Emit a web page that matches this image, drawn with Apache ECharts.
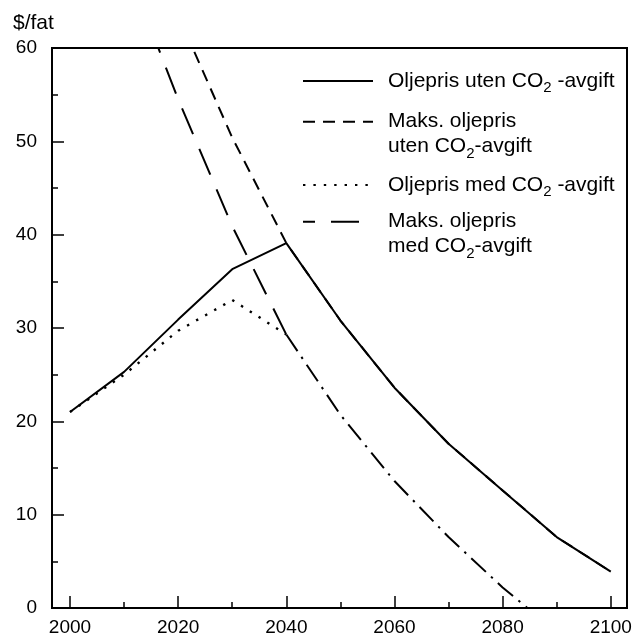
<!DOCTYPE html>
<html>
<head>
<meta charset="utf-8">
<script src="https://cdn.jsdelivr.net/npm/echarts@6/dist/echarts.min.js"></script>
<style>
html,body{margin:0;padding:0;background:#fff;}
#chart{width:633px;height:634px;}
</style>
</head>
<body>
<div id="chart"></div>
<script>
// ---- data ----
const years      = [2000, 2010, 2020, 2030, 2040, 2050, 2060, 2070, 2080, 2090, 2100];
const oilNoTax   = [21.0, 25.3, 30.9, 36.3, 39.1, 30.8, 23.6, 17.6, 12.6, 7.6, 3.9];
const maxNoTax   = [null, null, 63.5, 50.4, 39.1, 30.8, 23.6, 17.6, 12.6, 7.6, 3.9];
const taxYears   = [2000, 2010, 2020, 2030, 2040, 2050, 2060, 2070, 2080, 2085];
const oilTax     = [21.0, 25.0, 29.7, 33.0, 29.3, null, null, null, null, null];
const maxTax     = [null, 69.5, 54.5, 40.9, 29.3, 20.7, 13.6, 7.6, 2.2, -0.2];
const xLabelValues = [2000, 2020, 2040, 2060, 2080, 2100];
const xMinorValues = [2010, 2030, 2050, 2070, 2090];
const seriesNames = [
  'Oljepris uten CO2 -avgift',
  'Maks. oljepris uten CO2-avgift',
  'Oljepris med CO2 -avgift',
  'Maks. oljepris med CO2-avgift'
];
const legendTexts = [
  '{a|Oljepris uten CO}{s|2}{a| -avgift}',
  '{a|Maks. oljepris}\n{a|uten CO}{s|2}{a|-avgift}',
  '{a|Oljepris med CO}{s|2}{a| -avgift}',
  '{a|Maks. oljepris}\n{a|med CO}{s|2}{a|-avgift}'
];

const FONT = "'Liberation Sans', Arial, Helvetica, sans-serif";
const INK = '#000';

function pairs(xs, ys) { return xs.map((x, i) => [x, ys[i]]); }
const oilNoTaxData = pairs(years, oilNoTax);
const maxNoTaxData = pairs(years, maxNoTax);
const oilTaxData = pairs(taxYears, oilTax);
const maxTaxAll = pairs(taxYears, maxTax);
const maxTaxHead = maxTaxAll.filter(p => p[0] <= 2040);
const maxTaxTail = maxTaxAll.filter(p => p[0] >= 2040);

const rich = {
  a: {fontFamily: FONT, fontSize: 21, color: INK, lineHeight: 25},
  s: {fontFamily: FONT, fontSize: 15, color: INK, padding: [14, 0, 0, 0]}
};

function makeLegend(idx, top, twoLine) {
  return {
    data: [{name: seriesNames[idx]}],
    left: 302,
    top: top,
    padding: 0,
    orient: 'vertical',
    itemWidth: 70,
    itemHeight: 14,
    selectedMode: false,
    itemStyle: {opacity: 0},
    formatter: () => legendTexts[idx],
    textStyle: {
      fontFamily: FONT, fontSize: 21, color: INK, lineHeight: 25,
      padding: twoLine ? [25, 0, 0, 10] : [0, 0, 0, 10],
      rich: rich
    }
  };
}

const chart = echarts.init(document.getElementById('chart'), null, {renderer: 'canvas'});
const xCommon = {
  type: 'value', min: 1996.67, max: 2103.0,
  position: 'bottom',
  splitLine: {show: false}
};
chart.setOption({
  animation: false,
  backgroundColor: '#fff',
  title: {
    text: '$/fat', left: 13, top: 13, padding: 0,
    textStyle: {fontFamily: FONT, fontSize: 21, fontWeight: 'normal', color: INK}
  },
  grid: {
    left: 52, top: 48, right: 6, bottom: 26,
    show: true, borderColor: INK, borderWidth: 2, backgroundColor: 'transparent',
    containLabel: false, outerBoundsMode: 'none'
  },
  legend: [
    makeLegend(0, 68.5, false),
    makeLegend(1, 84.2, true),
    makeLegend(2, 172.5, false),
    makeLegend(3, 184.2, true)
  ],
  xAxis: [
    Object.assign({}, xCommon, {
      axisLine: {show: true, lineStyle: {color: INK, width: 2}},
      axisTick: {show: true, inside: true, length: 12, lineStyle: {color: INK, width: 1.5}, customValues: xLabelValues},
      axisLabel: {show: true, margin: 10, fontFamily: FONT, fontSize: 19, color: INK, customValues: xLabelValues,
        formatter: v => String(Math.round(v))}
    }),
    Object.assign({}, xCommon, {
      axisLine: {show: false},
      axisTick: {show: true, inside: true, length: 6, lineStyle: {color: INK, width: 1.5}, customValues: xMinorValues},
      axisLabel: {show: false}
    })
  ],
  yAxis: {
    type: 'value', min: 0, max: 60, interval: 10,
    axisLine: {show: true, lineStyle: {color: INK, width: 2}},
    axisTick: {show: true, inside: true, length: 12, lineStyle: {color: INK, width: 1.5}},
    minorTick: {show: true, splitNumber: 2, length: 6, lineStyle: {color: INK, width: 1.5}},
    axisLabel: {show: true, margin: 15, fontFamily: FONT, fontSize: 19, color: INK},
    splitLine: {show: false}
  },
  series: [
    {
      name: seriesNames[1], type: 'line', xAxisIndex: 0, data: maxNoTaxData,
      symbol: 'none', z: 2, clip: true,
      lineStyle: {color: INK, width: 2, type: [12, 8]}, itemStyle: {color: INK}
    },
    {
      name: seriesNames[0], type: 'line', xAxisIndex: 0, data: oilNoTaxData,
      symbol: 'none', z: 4, clip: true,
      lineStyle: {color: INK, width: 2, type: 'solid'}, itemStyle: {color: INK}
    },
    {
      name: seriesNames[2], type: 'line', xAxisIndex: 0, data: oilTaxData,
      symbol: 'none', z: 3, clip: true, connectNulls: false,
      lineStyle: {color: INK, width: 2.4, type: [2.4, 8]}, itemStyle: {color: INK}
    },
    {
      name: seriesNames[3], type: 'line', xAxisIndex: 0, data: maxTaxHead,
      symbol: 'none', z: 3, clip: true,
      lineStyle: {color: INK, width: 2, type: [28, 16], dashOffset: 16}, itemStyle: {color: INK}
    },
    {
      name: 'tail', type: 'line', xAxisIndex: 0, data: maxTaxTail,
      symbol: 'none', z: 3, clip: true,
      lineStyle: {color: INK, width: 2, type: [20, 7, 2.4, 7]}, itemStyle: {color: INK}
    }
  ]
});
</script>
</body>
</html>
